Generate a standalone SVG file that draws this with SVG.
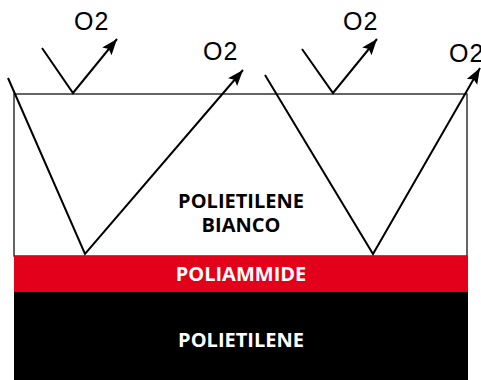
<svg xmlns="http://www.w3.org/2000/svg" width="481" height="380" viewBox="0 0 481 380">
<style>
.o2{font-family:"Liberation Sans",Arial,sans-serif;font-size:25px;fill:#000;letter-spacing:1px}
.lbl{font-family:"Open Sans","Liberation Sans",sans-serif;font-weight:700;font-size:20px;text-anchor:middle}
.ray{fill:none;stroke:#000;stroke-width:2;marker-end:url(#ah)}
</style>
<defs>
<marker id="ah" markerUnits="userSpaceOnUse" markerWidth="18" markerHeight="14" refX="16" refY="6" orient="auto">
<path d="M0,0 L16,6 L0,12 L3,6 Z" fill="#000"/>
</marker>
</defs>
<rect width="481" height="380" fill="#fff"/>
<g id="polietilene-bianco">
<rect x="14" y="94" width="453" height="162" fill="#fff" stroke="#333" stroke-width="1.5"/>
<text class="lbl" x="241" y="208" fill="#000">POLIETILENE</text>
<text class="lbl" x="241" y="232" fill="#000">BIANCO</text>
</g>
<g id="poliammide">
<rect x="14" y="256" width="454" height="36" fill="#e2001a"/>
<text class="lbl" x="241" y="281" fill="#fff">POLIAMMIDE</text>
</g>
<g id="polietilene">
<rect x="14" y="292" width="454" height="88" fill="#000"/>
<text class="lbl" x="241" y="347" fill="#fff">POLIETILENE</text>
</g>
<g id="connectors">
<polyline class="ray" points="42,48 73,93 117,39"/>
<polyline class="ray" points="8,78 85,254 243,70"/>
<polyline class="ray" points="302,49 333,93 377,39"/>
<polyline class="ray" points="265,75 373,254 480,68"/>
</g>
<g id="labels">
<text class="o2" x="74" y="30">O2</text>
<text class="o2" x="203" y="60">O2</text>
<text class="o2" x="343" y="30">O2</text>
<text class="o2" x="449" y="62">O2</text>
</g>
</svg>
